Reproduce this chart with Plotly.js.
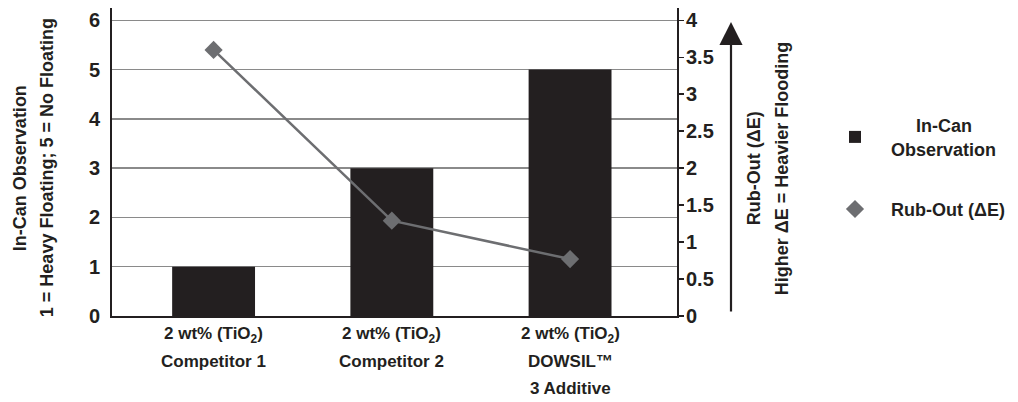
<!DOCTYPE html>
<html>
<head>
<meta charset="utf-8">
<script src="https://cdn.plot.ly/plotly-3.0.1.min.js"></script>
<style>html,body{margin:0;padding:0;background:#fff;}#chart{width:1018px;height:402px;}</style>
</head>
<body>
<div id="chart"></div>
<script>
const categoryLines = [
  ["2 wt% (TiO<sub>2</sub>)", "Competitor 1"],
  ["2 wt% (TiO<sub>2</sub>)", "Competitor 2"],
  ["2 wt% (TiO<sub>2</sub>)", "DOWSIL\u2122", "3 Additive"]
];
const categories = categoryLines.map(l => l.join(' '));
const inCanObservation = [1, 3, 5];
const rubOut = [3.6, 1.29, 0.77];
const leftTicks = [0, 1, 2, 3, 4, 5, 6];
const rightTicks = [0, 0.5, 1, 1.5, 2, 2.5, 3, 3.5, 4];
const rightTickText = ["0", "0.5", "1", "1.5", "2", "2.5", "3", "3.5", "4"];
const leftTitle = ["In-Can Observation", "1 = Heavy Floating; 5 = No Floating"];
const rightTitle = ["Rub-Out (\u0394E)", "Higher \u0394E = Heavier Flooding"];

const FONT = '"Liberation Sans", Arial, sans-serif';
const TXT = '#231f20';
const GRAY = '#6d6e71';
const f = (s) => ({family: FONT, size: s, color: TXT, weight: 'bold'});

// plot area in pixels: x 112..677, y 8..316
const PL = 112, PW = 565, PB = 316, PH = 308;
const px = (X) => (X - PL) / PW;
const py = (Y) => (PB - Y) / PH;

const traces = [
  {
    type: 'bar', x: categories, y: inCanObservation,
    name: '\u00a0\u00a0\u00a0\u00a0\u00a0In-Can<br>Observation',
    marker: {color: '#231f20'}, width: 0.465, yaxis: 'y', legendgroup: 'a'
  },
  {
    type: 'scatter', mode: 'lines', x: categories, y: rubOut, yaxis: 'y2',
    line: {color: GRAY, width: 2.5}, showlegend: false, hoverinfo: 'skip'
  },
  {
    type: 'scatter', mode: 'markers', x: categories, y: rubOut, yaxis: 'y2', name: 'Rub-Out (\u0394E)',
    marker: {symbol: 'diamond', size: 14, color: GRAY}, legendgroup: 'b'
  }
];

const titleAnn = (txt, X) => ({
  xref: 'paper', yref: 'paper', x: px(X), y: 0.48, xanchor: 'center', yanchor: 'middle',
  textangle: -90, showarrow: false, text: txt, font: f(18)
});

const lineYs = [335, 361, 388];
const catAnns = [];
categoryLines.forEach((lines, i) => {
  lines.forEach((t, j) => {
    catAnns.push({xref: 'x', yref: 'paper', x: categories[i], y: py(lineYs[j]),
      xanchor: 'center', yanchor: 'middle', showarrow: false, text: t, font: f(17)});
  });
});

const layout = {
  width: 1018, height: 402,
  margin: {l: PL, r: 1018 - PL - PW, t: 8, b: 402 - PB},
  paper_bgcolor: '#fff', plot_bgcolor: '#fff',
  font: f(18),
  showlegend: true,
  legend: {x: px(819), y: py(107), xanchor: 'left', yanchor: 'top', tracegroupgap: 34,
           itemwidth: 62, font: f(18), traceorder: 'grouped'},
  xaxis: {
    type: 'category', range: [-0.57, 2.6], showline: true, linecolor: '#231f20', linewidth: 2,
    ticks: '', showgrid: false, showticklabels: false, fixedrange: true
  },
  yaxis: {
    range: [0, 6.25], tickvals: leftTicks, ticktext: leftTicks.map(String), showline: true,
    linecolor: '#231f20', linewidth: 2, ticks: '', showgrid: true, gridcolor: '#8a8a8a', gridwidth: 1.5,
    zeroline: false, tickfont: f(20), ticklabelstandoff: 6
  },
  yaxis2: {
    range: [0, 4.1667], overlaying: 'y', side: 'right', tickvals: rightTicks, ticktext: rightTickText,
    showline: true, linecolor: '#231f20', linewidth: 2, ticks: 'outside', ticklen: 5, tickwidth: 1.5,
    tickcolor: '#231f20', showgrid: false, zeroline: false, tickfont: f(20), ticklabelstandoff: -2
  },
  annotations: [
    titleAnn(leftTitle[0], 20),
    titleAnn(leftTitle[1], 47),
    titleAnn(rightTitle[0], 754),
    titleAnn(rightTitle[1], 782),
    {xref: 'paper', yref: 'paper', x: px(731), y: py(22), text: '', showarrow: true,
     axref: 'pixel', ayref: 'pixel', ax: 0, ay: 291, arrowhead: 2, arrowsize: 2.1, arrowwidth: 2.2,
     arrowcolor: '#231f20'}
  ].concat(catAnns)
};

Plotly.newPlot('chart', traces, layout, {displayModeBar: false, staticPlot: true});
</script>
</body>
</html>
